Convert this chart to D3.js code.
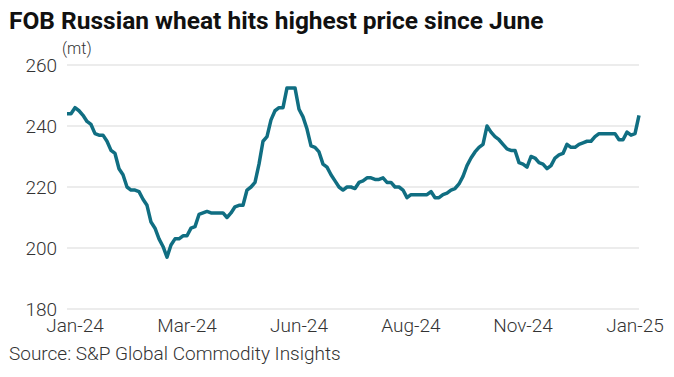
<!DOCTYPE html>
<html>
    <head>
        <script src="https://d3js.org/d3.v7.min.js"></script>
        <style>
            body, html {
                margin: 0;
                padding: 0;
                background: #ffffff;
                font-family: Roboto, Arial, sans-serif;
            }
            .title {
                font-weight: bold;
                font-size: 24.5px;
                fill: #111111;
            }
            .tickText, .unit, .source {
                fill: #333333;
                font-weight: 300;
            }
        </style>
    </head>
    <body>
        <div id="chart"></div>
        <script>

            // FOB Russian wheat price ($/mt), sampled along the line
            const prices = [
                244, 244, 246, 245, 243.5, 241.5, 240.5, 237.5, 237, 237,
                235, 232, 231, 226, 224, 220, 219, 219, 218.5, 216,
                214, 208.5, 206.5, 203, 200.5, 197, 201, 203, 203, 204,
                204, 206.5, 207, 211, 211.5, 212, 211.5, 211.5, 211.5, 211.5,
                210, 211.5, 213.5, 214, 214, 219, 220, 221.5, 227.5, 235,
                236.5, 242, 245, 246, 246, 252.5, 252.5, 252.5, 245.5, 243,
                239, 233.5, 233, 231.5, 227.5, 226.5, 224, 222, 220, 219,
                220, 220, 219.5, 221.5, 222, 223, 223, 222.5, 222.5, 223,
                221.5, 221.5, 220, 220, 219, 216.5, 217.5, 217.5, 217.5, 217.5,
                217.5, 218.5, 216.5, 216.5, 217.5, 218, 219, 219.5, 221, 223.5,
                227, 229.5, 231.5, 233, 234, 240, 238, 236.5, 235.5, 234,
                232.5, 232, 232, 228, 227.5, 226.5, 230, 229.5, 228, 227.5,
                226, 227, 229.5, 230.5, 231, 234, 233, 233, 234, 234.5,
                235, 235, 236.5, 237.5, 237.5, 237.5, 237.5, 237.5, 235.5, 235.5,
                238, 237, 237.5, 243.5
            ];

            // x-axis labels and the sample they sit under
            const xLabels = ["Jan-24", "Mar-24", "Jun-24", "Aug-24", "Nov-24", "Jan-25"];
            const xLabelIdx = [2, 30, 58, 86, 114, 142];

            const yTicks = [180, 200, 220, 240, 260];

            const width = 674;
            const height = 377;
            const margin = {top: 65, left: 67, right: 35, bottom: 68};

            const svg = d3.select("#chart")
                .append("svg")
                .attr("width", width)
                .attr("height", height);

            const xScale = d3.scaleLinear()
                .domain([0, prices.length - 1])
                .range([margin.left, width - margin.right]);

            const yScale = d3.scaleLinear()
                .domain([180, 260])
                .range([height - margin.bottom, margin.top]);

            /* TITLE */
            svg.append("text")
                .attr("class", "title")
                .attr("x", 9)
                .attr("y", 29)
                .text("FOB Russian wheat hits highest price since June");

            /* GRIDLINES + Y LABELS */
            const grid = svg.append("g");
            grid.selectAll("line")
                .data(yTicks)
                .enter()
                .append("line")
                    .attr("x1", margin.left)
                    .attr("x2", width - margin.right)
                    .attr("y1", d => yScale(d))
                    .attr("y2", d => yScale(d))
                    .attr("stroke", "#e6e6e6")
                    .attr("stroke-width", 1.5);

            grid.selectAll("text")
                .data(yTicks)
                .enter()
                .append("text")
                    .attr("class", "tickText")
                    .attr("x", 57)
                    .attr("y", d => yScale(d) + 7)
                    .attr("text-anchor", "end")
                    .style("font-size", "19px")
                    .text(d => d);

            svg.append("text")
                .attr("class", "unit")
                .attr("x", 62)
                .attr("y", 54)
                .style("font-size", "16px")
                .text("(mt)");

            /* X LABELS */
            svg.append("g").selectAll("text")
                .data(xLabels)
                .enter()
                .append("text")
                    .attr("class", "tickText")
                    .attr("x", (d, i) => xScale(xLabelIdx[i]))
                    .attr("y", 332)
                    .attr("text-anchor", "middle")
                    .style("font-size", "19px")
                    .text(d => d);

            /* PRICE LINE */
            const line = d3.line()
                .x((d, i) => xScale(i))
                .y(d => yScale(d));

            svg.append("path")
                .datum(prices)
                .attr("fill", "none")
                .attr("stroke", "#106e82")
                .attr("stroke-width", 3.5)
                .attr("stroke-linejoin", "round")
                .attr("d", line);

            /* SOURCE */
            svg.append("text")
                .attr("class", "source")
                .attr("x", 9)
                .attr("y", 360)
                .style("font-size", "19px")
                .text("Source: S&P Global Commodity Insights");

        </script>
    </body>
</html>
